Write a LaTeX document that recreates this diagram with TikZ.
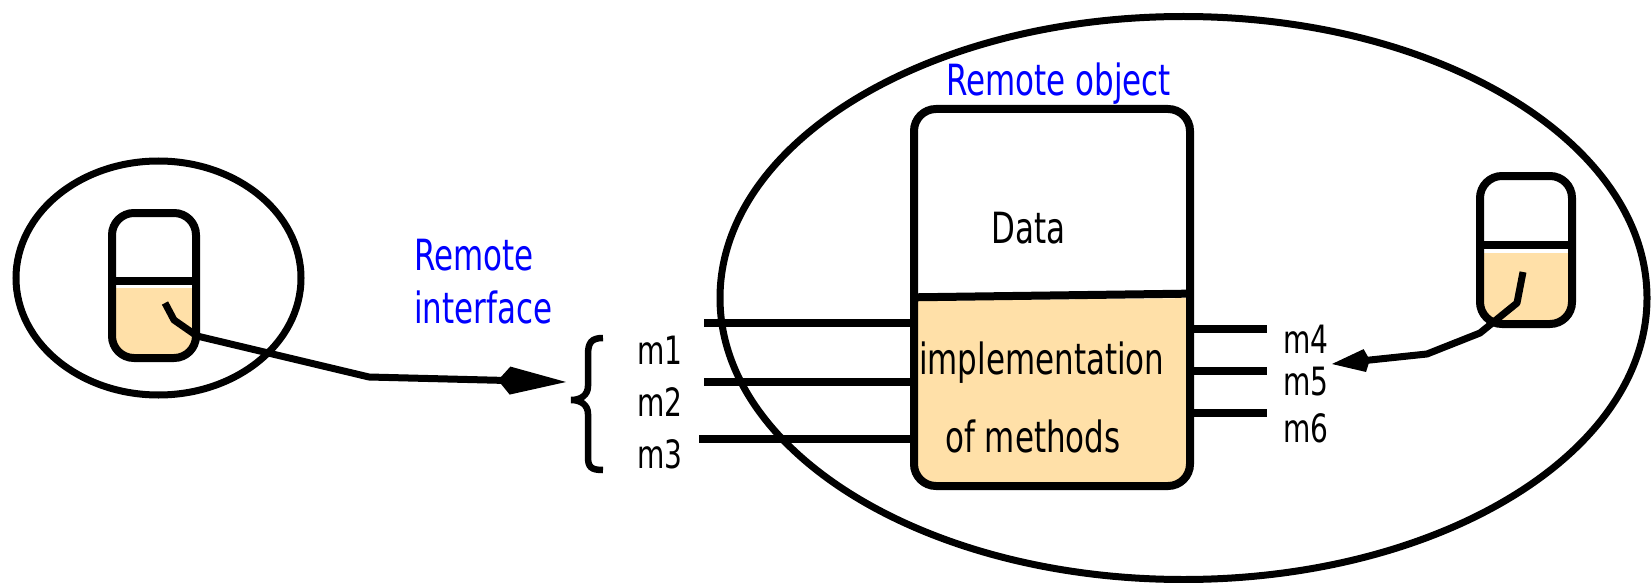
\documentclass[tikz,border=0pt]{standalone}
\usepackage{fontspec}
\setmainfont{DejaVu Sans}
\newfontfamily\labfont[FakeStretch=0.72]{DejaVu Sans}
\usetikzlibrary{arrows.meta}
\definecolor{methodfill}{RGB}{255,224,168}
\definecolor{titleblue}{RGB}{0,0,255}
\tikzset{
  outline/.style={draw=black, line width=7pt},
  objbox/.style={draw=black, line width=8pt, rounded corners=22pt, inner sep=0pt, outer sep=0pt},
  stub/.style={draw=black, line width=7.5pt},
  divider/.style={draw=black, line width=8pt},
  lab/.style={inner sep=0pt, anchor=base west, font=\labfont\fontsize{43}{50}\selectfont},
  mlab/.style={inner sep=0pt, anchor=base west, font=\labfont\fontsize{39}{46}\selectfont},
  bluelab/.style={lab, text=titleblue},
  link/.style={draw=black, line width=7pt, line join=round},
}
\begin{document}
\begin{tikzpicture}[x=1pt, y=-1pt]
\useasboundingbox (0,0) rectangle (1652,583);

% process boundaries
\draw[outline] (158.5,278) ellipse [x radius=142.5, y radius=117];
\draw[outline] (1183.5,298) ellipse [x radius=463.5, y radius=281.5];

% remote object: data part on top, method part filled below
\begin{scope}
  \clip[rounded corners=22pt] (914,109) rectangle (1190,486);
  \fill[methodfill] (900,301) -- (1200,298) -- (1200,500) -- (900,500) -- cycle;
  \draw[divider] (900,297.5) -- (1200,293.5);
\end{scope}
\node[objbox, minimum width=276pt, minimum height=377pt] (obj) at (1052,297.5) {};

% client-side reference
\begin{scope}
  \clip[rounded corners=22pt] (112,213) rectangle (196,358);
  \fill[methodfill] (100,288) rectangle (210,370);
  \draw[divider] (100,281) -- (193,281);
\end{scope}
\node[objbox, minimum width=84pt, minimum height=145pt] (cli) at (154,285.5) {};

% server-side reference
\begin{scope}
  \clip[rounded corners=22pt] (1480,176) rectangle (1572,324);
  \fill[methodfill] (1470,253) rectangle (1580,330);
  \draw[divider] (1470,245) -- (1568,245);
\end{scope}
\node[objbox, minimum width=92pt, minimum height=148pt] (srv) at (1526,250) {};

% method stubs
\coordinate (m1end) at (704,323);
\coordinate (m2end) at (704,382);
\coordinate (m3end) at (699,439);
\coordinate (m4end) at (1267,329);
\coordinate (m5end) at (1267,371);
\coordinate (m6end) at (1267,413);
\draw[stub] (m1end) -- (m1end -| obj.west);
\draw[stub] (m2end) -- (m2end -| obj.west);
\draw[stub] (m3end) -- (m3end -| obj.west);
\draw[stub] (m4end -| obj.east) -- (m4end);
\draw[stub] (m5end -| obj.east) -- (m5end);
\draw[stub] (m6end -| obj.east) -- (m6end);

% brace grouping m1..m3
\draw[line width=6.5pt] (603,338) .. controls (591,338) and (588,343) .. (588,355)
  -- (588,386) .. controls (588,395) and (581,400) .. (571,400)
  .. controls (581,400) and (588,405) .. (588,414)
  -- (588,457) .. controls (588,467) and (591,470) .. (603,470);

% references pointing at the interfaces
\coordinate (cgrip) at (165,303);
\coordinate (ctip) at (566,382);
\draw[link, -{Kite[length=68pt,width=28pt,inset=12pt]}]
  (cgrip) -- (174,320) -- (197,336) -- (369,377) -- (ctip);
\coordinate (sgrip) at (1523,272);
\coordinate (stip) at (1332,364);
\draw[link, -{Kite[length=38pt,width=23pt,inset=5pt]}]
  (sgrip) -- (1517,303) -- (1480,333) -- (1427,354) -- (stip);

% labels
\node[bluelab] (title) at (946,96) {Remote object};
\node[bluelab] (ri1) at (414,270) {Remote};
\node[bluelab] (ri2) at (414,323) {interface};
\node[lab] (data) at (991,243) {Data};
\node[lab] (impl) at (919,374) {implementation};
\node[lab] (meth) at (945,452) {of methods};
\node[mlab] (m1) at (637,364) {m1};
\node[mlab] (m2) at (637,416) {m2};
\node[mlab] (m3) at (637,468) {m3};
\node[mlab] (m4) at (1283,353) {m4};
\node[mlab] (m5) at (1283,395) {m5};
\node[mlab] (m6) at (1283,442) {m6};
\end{tikzpicture}
\end{document}
